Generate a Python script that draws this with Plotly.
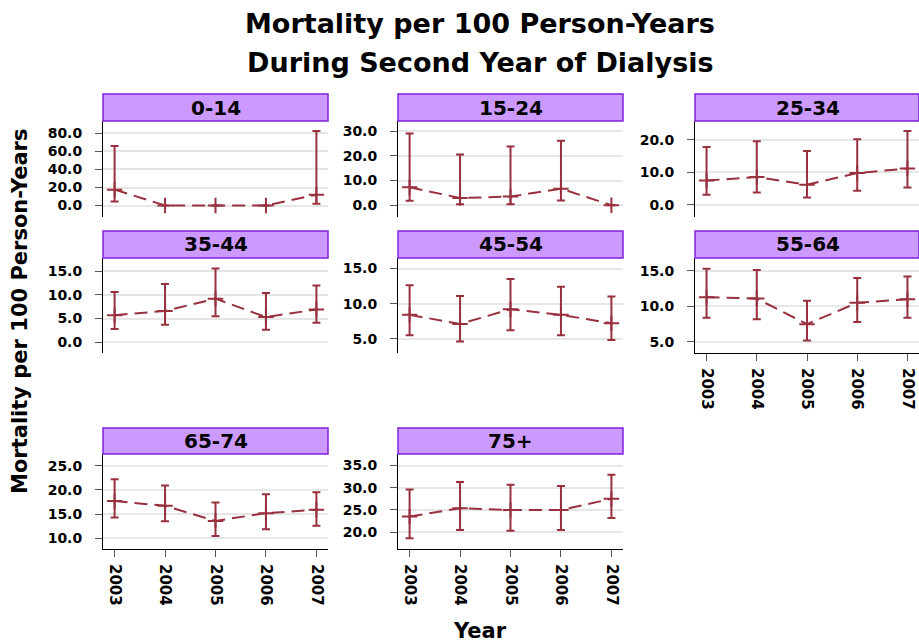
import plotly.graph_objects as go

W, H = 919, 643

years = [2003, 2004, 2005, 2006, 2007]
year_labels = ["2003", "2004", "2005", "2006", "2007"]
groups = ["0-14", "15-24", "25-34", "35-44", "45-54", "55-64", "65-74", "75+"]

rate_0_14 = [17.6, 0.0, 0.0, 0.0, 12.0]
upper_0_14 = [66.1, None, None, None, 82.5]
lower_0_14 = [4.5, None, None, None, 1.9]

rate_15_24 = [7.3, 2.9, 3.5, 6.7, 0.0]
upper_15_24 = [29.1, 20.6, 23.8, 26.2, None]
lower_15_24 = [1.8, 0.4, 0.4, 1.9, None]

rate_25_34 = [7.5, 8.6, 6.2, 9.8, 11.2]
upper_25_34 = [17.8, 19.6, 16.6, 20.2, 22.7]
lower_25_34 = [3.1, 3.8, 2.3, 4.4, 5.4]

rate_35_44 = [5.7, 6.6, 9.2, 5.3, 6.9]
upper_35_44 = [10.6, 12.3, 15.6, 10.4, 12.0]
lower_35_44 = [2.8, 3.7, 5.5, 2.6, 4.1]

rate_45_54 = [8.4, 7.1, 9.2, 8.4, 7.2]
upper_45_54 = [12.6, 11.1, 13.5, 12.4, 11.0]
lower_45_54 = [5.5, 4.6, 6.2, 5.5, 4.8]

rate_55_64 = [11.3, 11.1, 7.5, 10.5, 11.0]
upper_55_64 = [15.3, 15.1, 10.8, 14.0, 14.2]
lower_55_64 = [8.4, 8.2, 5.2, 7.8, 8.4]

rate_65_74 = [17.7, 16.7, 13.6, 15.2, 15.9]
upper_65_74 = [22.2, 20.9, 17.4, 19.1, 19.5]
lower_65_74 = [14.3, 13.5, 10.5, 11.9, 12.6]

rate_75 = [23.5, 25.4, 25.0, 25.0, 27.5]
upper_75 = [29.6, 31.3, 30.7, 30.4, 32.9]
lower_75 = [18.6, 20.5, 20.3, 20.5, 23.2]

rates = [rate_0_14, rate_15_24, rate_25_34, rate_35_44, rate_45_54, rate_55_64, rate_65_74, rate_75]
uppers = [upper_0_14, upper_15_24, upper_25_34, upper_35_44, upper_45_54, upper_55_64, upper_65_74, upper_75]
lowers = [lower_0_14, lower_15_24, lower_25_34, lower_35_44, lower_45_54, lower_55_64, lower_65_74, lower_75]

y_ticks = [
    [0, 20, 40, 60, 80],
    [0, 10, 20, 30],
    [0, 10, 20],
    [0, 5, 10, 15],
    [5, 10, 15],
    [5, 10, 15],
    [10, 15, 20, 25],
    [20, 25, 30, 35],
]
y_ranges = [
    [-12.7, 93.7], [-4.8, 34.2], [-3.7, 25.8],
    [-2.3, 17.8], [2.96, 16.5], [3.45, 16.8],
    [7.8, 27.4], [16.2, 37.6],
]

# layout geometry in pixels
col_px = [(103, 328), (398, 623), (695, 920)]
row_px = [(121, 217), (258, 353), (454, 549)]
strip_px = [(94, 121), (231, 258), (428, 454)]
bottom_panels = {5, 6, 7}

LINE = "#98303e"
FONT = "DejaVu Sans"


def px_x(p):
    return min(max(p / W, 0), 1)


def px_y(p):
    return min(max(1 - p / H, 0), 1)


fig = go.Figure()
shapes = []
annotations = []

for i, g in enumerate(groups):
    r, c = divmod(i, 3)
    n = i + 1
    xa = "x" if n == 1 else f"x{n}"
    ya = "y" if n == 1 else f"y{n}"
    rate = rates[i]
    up = [None if (u is None) else u - v for u, v in zip(uppers[i], rate)]
    lo = [None if (l is None) else v - l for l, v in zip(lowers[i], rate)]
    fig.add_trace(go.Scatter(
        x=years, y=rate, mode="lines+markers",
        line=dict(color=LINE, width=2, dash="13px,7px"),
        marker=dict(symbol="cross-thin", size=11, line=dict(color=LINE, width=2), color=LINE),
        error_y=dict(type="data", symmetric=False, array=up, arrayminus=lo,
                     color=LINE, thickness=2, width=4),
        xaxis=xa, yaxis=ya, showlegend=False, hoverinfo="skip",
    ))
    x0, x1 = col_px[c]
    y0, y1 = row_px[r]
    show_x = i in bottom_panels
    fig.layout[("xaxis" if n == 1 else f"xaxis{n}")] = dict(
        domain=[px_x(x0), px_x(x1)], anchor=ya,
        range=[2002.77, 2007.23],
        tickvals=years, ticktext=year_labels,
        showticklabels=show_x, ticks="outside" if show_x else "",
        ticklen=7, tickcolor="#555", tickwidth=1,
        tickangle=90, showgrid=False, zeroline=False,
        showline=show_x, linecolor="black", linewidth=1,
        tickfont=dict(family=FONT, size=15, color="black", weight="bold"),
        ticklabelstandoff=4,
    )
    fig.layout[("yaxis" if n == 1 else f"yaxis{n}")] = dict(
        domain=[px_y(y1), px_y(y0)], anchor=xa,
        range=y_ranges[i], tickvals=y_ticks[i],
        tickformat=".1f", ticks="outside", ticklen=7, tickcolor="#555", tickwidth=1,
        showgrid=True, gridcolor="#e6e6e6", gridwidth=2, zeroline=False,
        showline=True, linecolor="black", linewidth=1,
        tickfont=dict(family=FONT, size=14, color="black", weight="bold"),
        ticklabelstandoff=10,
    )
    sy0, sy1 = strip_px[r]
    shapes.append(dict(type="rect", xref="paper", yref="paper",
                       x0=px_x(x0), x1=px_x(x1), y0=px_y(sy1), y1=px_y(sy0),
                       fillcolor="#cc99ff", line=dict(color="#7f22dd", width=1.5)))
    annotations.append(dict(text=g, xref="paper", yref="paper",
                            x=px_x((x0 + x1) / 2), y=px_y((sy0 + sy1) / 2),
                            xanchor="center", yanchor="middle", showarrow=False,
                            font=dict(family=FONT, size=20, color="black", weight="bold")))

annotations += [
    dict(text="Mortality per 100 Person-Years", xref="paper", yref="paper",
         x=480 / W, y=px_y(23), xanchor="center", yanchor="middle", showarrow=False,
         font=dict(family=FONT, size=27, color="black", weight="bold")),
    dict(text="During Second Year of Dialysis", xref="paper", yref="paper",
         x=480 / W, y=px_y(62), xanchor="center", yanchor="middle", showarrow=False,
         font=dict(family=FONT, size=27, color="black", weight="bold")),
    dict(text="Year", xref="paper", yref="paper",
         x=480 / W, y=px_y(631), xanchor="center", yanchor="middle", showarrow=False,
         font=dict(family=FONT, size=21, color="black", weight="bold")),
    dict(text="Mortality per 100 Person-Years", xref="paper", yref="paper",
         x=px_x(20), y=px_y(312), xanchor="center", yanchor="middle", showarrow=False,
         textangle=-90,
         font=dict(family=FONT, size=21, color="black", weight="bold")),
]

fig.update_layout(
    width=W, height=H, margin=dict(l=0, r=0, t=0, b=0),
    paper_bgcolor="white", plot_bgcolor="white",
    shapes=shapes, annotations=annotations, showlegend=False,
)

fig.write_html("out.html")
